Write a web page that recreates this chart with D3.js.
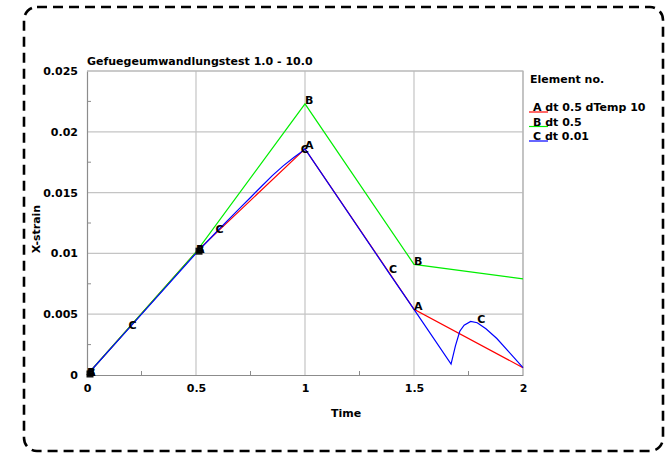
<!DOCTYPE html>
<html>
<head>
<meta charset="utf-8">
<script src="https://cdn.jsdelivr.net/npm/d3@7"></script>
<style>
  body { margin: 0; background: #fff; }
  svg text { font-family: "DejaVu Sans", sans-serif; font-weight: bold; font-size: 11px; fill: #000; }
</style>
</head>
<body>
<svg id="chart" width="667" height="453"></svg>
<script>
// Chart text
const chartTitle = "Gefuegeumwandlungstest 1.0 - 10.0";
const xTitle = "Time";
const yTitle = "X-strain";
const legendTitle = "Element no.";

// Series
const seriesIds = ["A", "B", "C"];
const seriesDesc = ["dt 0.5 dTemp 10", "dt 0.5", "dt 0.01"];
const seriesColors = ["#ff0000", "#00ee00", "#0000ff"];

const timeA = [0, 0.5, 1.0, 1.5, 2.0];
const strainA = [0, 0.0101, 0.0186, 0.0054, 0.0006];

const timeB = [0, 0.5, 1.0, 1.5, 2.0];
const strainB = [0, 0.0101, 0.0223, 0.0091, 0.0079];

const timeC = [0, 0.19, 0.5, 0.59, 0.7, 0.75, 0.8, 0.85, 0.9, 0.95, 0.98, 1.0,
               1.385, 1.5, 1.67, 1.69, 1.71, 1.73, 1.76, 1.79, 1.83, 1.88, 1.93, 2.0];
const strainC = [0, 0.0038, 0.0100, 0.0117, 0.0137, 0.0146, 0.0155, 0.0164, 0.0172, 0.0179, 0.0183, 0.0186,
                 0.0084, 0.0054, 0.0009, 0.0024, 0.0036, 0.0041, 0.0044, 0.0043, 0.0038, 0.0030, 0.0020, 0.0006];

// Indices of the points that carry the curve's letter
const markIdxA = [0, 1, 2, 3];
const markIdxB = [0, 1, 2, 3];
const markIdxC = [0, 1, 3, 10, 12, 19];
// Points of curve A shared by every curve (letters pile up there)
const sharedIdx = [0, 1];

// Axis ticks
const xTicks = [0, 0.5, 1, 1.5, 2];
const xTickLabels = ["0", "0.5", "1", "1.5", "2"];
const xMinorTicks = [0.25, 0.75, 1.25, 1.75];
const yTicks = [0, 0.005, 0.01, 0.015, 0.02, 0.025];
const yTickLabels = ["0", "0.005", "0.01", "0.015", "0.02", "0.025"];
const yMinorTicks = [0.0025, 0.0075, 0.0125, 0.0175, 0.0225];

const svg = d3.select("#chart");

// Dashed rounded frame
svg.append("rect")
  .attr("x", 24).attr("y", 7).attr("width", 639).attr("height", 444)
  .attr("rx", 13).attr("ry", 13)
  .attr("fill", "none").attr("stroke", "#000")
  .attr("stroke-width", 2.6).attr("stroke-dasharray", "10,6");

const plot = { left: 87, right: 523, top: 71, bottom: 375 };
const x = d3.scaleLinear().domain([0, 2]).range([plot.left, plot.right]);
const y = d3.scaleLinear().domain([0, 0.025]).range([plot.bottom, plot.top]);

// Grid
const grid = svg.append("g").attr("stroke", "#c4c4c4").attr("stroke-width", 1.2);
xTicks.slice(1).forEach(t => grid.append("line")
  .attr("x1", x(t)).attr("x2", x(t)).attr("y1", plot.top).attr("y2", plot.bottom));
yTicks.slice(1).forEach(t => grid.append("line")
  .attr("x1", plot.left).attr("x2", plot.right).attr("y1", y(t)).attr("y2", y(t)));

// Axes
const xAxis = svg.append("g").attr("transform", `translate(0,${plot.bottom})`)
  .call(d3.axisBottom(x).tickValues(xTicks).tickSize(0).tickPadding(9)
    .tickFormat((d, i) => xTickLabels[i]));
const yAxis = svg.append("g").attr("transform", `translate(${plot.left},0)`)
  .call(d3.axisLeft(y).tickValues(yTicks).tickSize(0).tickPadding(9)
    .tickFormat((d, i) => yTickLabels[i]));
[xAxis, yAxis].forEach(a => {
  a.select(".domain").attr("stroke", "#8c8c8c").attr("stroke-width", 1.2);
  a.selectAll("text").attr("font-family", null).attr("font-size", null).attr("fill", "#000");
});

// Minor ticks
const minor = svg.append("g").attr("stroke", "#8c8c8c").attr("stroke-width", 1);
xMinorTicks.forEach(t => minor.append("line")
  .attr("x1", x(t)).attr("x2", x(t)).attr("y1", plot.bottom).attr("y2", plot.bottom - 4));
yMinorTicks.forEach(t => minor.append("line")
  .attr("x1", plot.left).attr("x2", plot.left + 4).attr("y1", y(t)).attr("y2", y(t)));

// Right and top border
svg.append("path")
  .attr("d", `M${plot.left},${plot.top}H${plot.right}V${plot.bottom}`)
  .attr("fill", "none").attr("stroke", "#b4b4b4").attr("stroke-width", 1.2);

// Curves
const series = [
  { id: seriesIds[0], t: timeA, v: strainA, marks: markIdxA, color: seriesColors[0] },
  { id: seriesIds[1], t: timeB, v: strainB, marks: markIdxB, color: seriesColors[1] },
  { id: seriesIds[2], t: timeC, v: strainC, marks: markIdxC, color: seriesColors[2] }
];
const line = d3.line().x(d => x(d[0])).y(d => y(d[1]));
series.forEach(s => {
  svg.append("path")
    .datum(s.t.map((t, i) => [t, s.v[i]]))
    .attr("d", line)
    .attr("fill", "none").attr("stroke", s.color).attr("stroke-width", 1.2);
});

// Solid block where all curve letters coincide
svg.append("g").selectAll("rect").data(sharedIdx).join("rect")
  .attr("x", i => x(timeA[i]) - 0.5)
  .attr("y", i => y(strainA[i]) - 4.5)
  .attr("width", 7).attr("height", 7)
  .attr("fill", "#111");

series.forEach(s => {
  svg.append("g").selectAll("text").data(s.marks).join("text")
    .attr("x", i => x(s.t[i]))
    .attr("y", i => y(s.v[i]) + 0.5)
    .text(s.id);
});

// Titles
svg.append("text").attr("x", 87).attr("y", 65).text(chartTitle);
svg.append("text").attr("x", 346).attr("y", 417).attr("text-anchor", "middle").text(xTitle);
svg.append("text").attr("transform", "translate(40,229) rotate(-90)")
  .attr("text-anchor", "middle").text(yTitle);

// Legend
svg.append("text").attr("x", 530).attr("y", 83).text(legendTitle);
series.forEach((s, i) => {
  const by = 111 + i * 14.5;
  svg.append("line").attr("x1", 529).attr("x2", 548).attr("y1", by + 1).attr("y2", by + 1)
    .attr("stroke", s.color).attr("stroke-width", 1.2);
  svg.append("text").attr("x", 533).attr("y", by).text(`${s.id} ${seriesDesc[i]}`);
});
</script>
</body>
</html>
